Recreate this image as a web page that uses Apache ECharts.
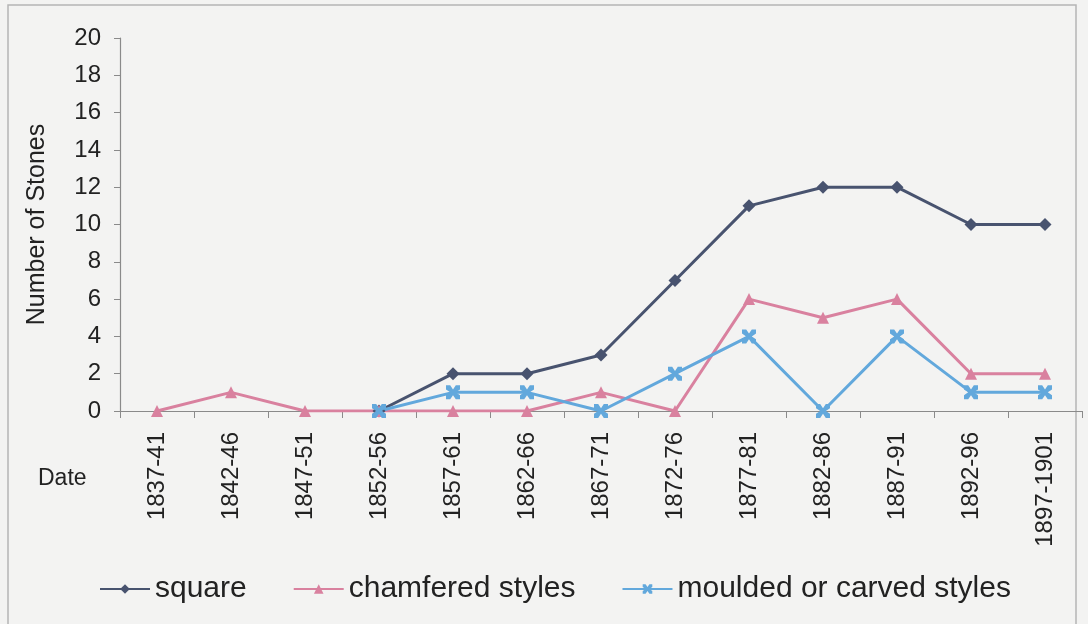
<!DOCTYPE html>
<html>
<head>
<meta charset="utf-8">
<script src="https://cdn.jsdelivr.net/npm/echarts@6/dist/echarts.min.js"></script>
<style>
  html, body { margin: 0; padding: 0; background: #f3f3f2; }
  #chart { width: 1088px; height: 624px; }
</style>
</head>
<body>
<div id="chart"></div>
<script>
// periods along the x axis
const periods = ['1837-41', '1842-46', '1847-51', '1852-56', '1857-61', '1862-66', '1867-71',
                 '1872-76', '1877-81', '1882-86', '1887-91', '1892-96', '1897-1901'];

// number of stones per period (null = no point drawn)
const square = [null, null, null, 0, 2, 2, 3, 7, 11, 12, 12, 10, 10];
const chamfered = [0, 1, 0, 0, 0, 0, 1, 0, 6, 5, 6, 2, 2];
const moulded = [null, null, null, 0, 1, 1, 0, 2, 4, 0, 4, 1, 1];

const yTicks = { min: 0, max: 20, step: 2 };

const colors = {
    square: '#48536f',
    chamfered: '#d9819f',
    moulded: '#62a8dc',
    axis: '#8a8a8a',
    text: '#222'
};

const starPath = 'path://M0,0 L3,0 L5,3 L7,0 L10,0 L10,3 L7,5 L10,7 L10,10 L7,10 L5,7 L3,10 L0,10 L0,7 L3,5 L0,3 Z';

const chart = echarts.init(document.getElementById('chart'), null, { renderer: 'canvas' });

chart.setOption({
    backgroundColor: '#f3f3f2',
    animation: false,
    textStyle: { fontFamily: 'Liberation Sans, Arial, sans-serif' },
    graphic: [
        {
            type: 'rect',
            shape: { x: 8, y: 5, width: 1068, height: 630 },
            style: { fill: 'none', stroke: '#b5b5b5', lineWidth: 1.5 },
            silent: true
        },
        {
            type: 'text',
            left: 38, top: 467,
            style: { text: 'Date', fontSize: 23, fill: colors.text, fontFamily: 'Liberation Sans, Arial, sans-serif' }
        }
    ],
    grid: { left: 120, right: 6, top: 38, bottom: 213, containLabel: false },
    legend: {
        bottom: 15,
        left: 94,
        itemWidth: 50,
        itemHeight: 12,
        itemGap: 46,
        textStyle: { fontSize: 30, color: colors.text, padding: [0, 0, 0, 0] },
        data: ['square', 'chamfered styles', 'moulded or carved styles']
    },
    xAxis: {
        type: 'category',
        data: periods,
        boundaryGap: true,
        axisLine: { lineStyle: { color: colors.axis, width: 1.2 } },
        axisTick: { show: true, length: 7, alignWithLabel: false, lineStyle: { color: colors.axis } },
        axisLabel: {
            rotate: 90,
            interval: 0,
            fontSize: 24,
            color: colors.text,
            margin: 21
        },
        splitLine: { show: false }
    },
    yAxis: {
        type: 'value',
        min: yTicks.min,
        max: yTicks.max,
        interval: yTicks.step,
        name: 'Number of Stones',
        nameLocation: 'middle',
        nameRotate: 90,
        nameGap: 70,
        nameTextStyle: { fontSize: 25, color: colors.text },
        axisLine: { show: true, lineStyle: { color: colors.axis, width: 1.2 } },
        axisTick: { show: true, length: 6, lineStyle: { color: colors.axis } },
        axisLabel: { fontSize: 24, color: colors.text, margin: 19 },
        splitLine: { show: false }
    },
    series: [
        {
            name: 'square',
            type: 'line',
            data: square,
            symbol: 'diamond',
            symbolSize: 13,
            lineStyle: { color: colors.square, width: 3 },
            itemStyle: { color: colors.square }
        },
        {
            name: 'chamfered styles',
            type: 'line',
            data: chamfered,
            symbol: 'triangle',
            symbolSize: 12,
            lineStyle: { color: colors.chamfered, width: 3 },
            itemStyle: { color: colors.chamfered }
        },
        {
            name: 'moulded or carved styles',
            type: 'line',
            data: moulded,
            symbol: starPath,
            symbolSize: 14,
            lineStyle: { color: colors.moulded, width: 3 },
            itemStyle: { color: colors.moulded }
        }
    ]
});
</script>
</body>
</html>
